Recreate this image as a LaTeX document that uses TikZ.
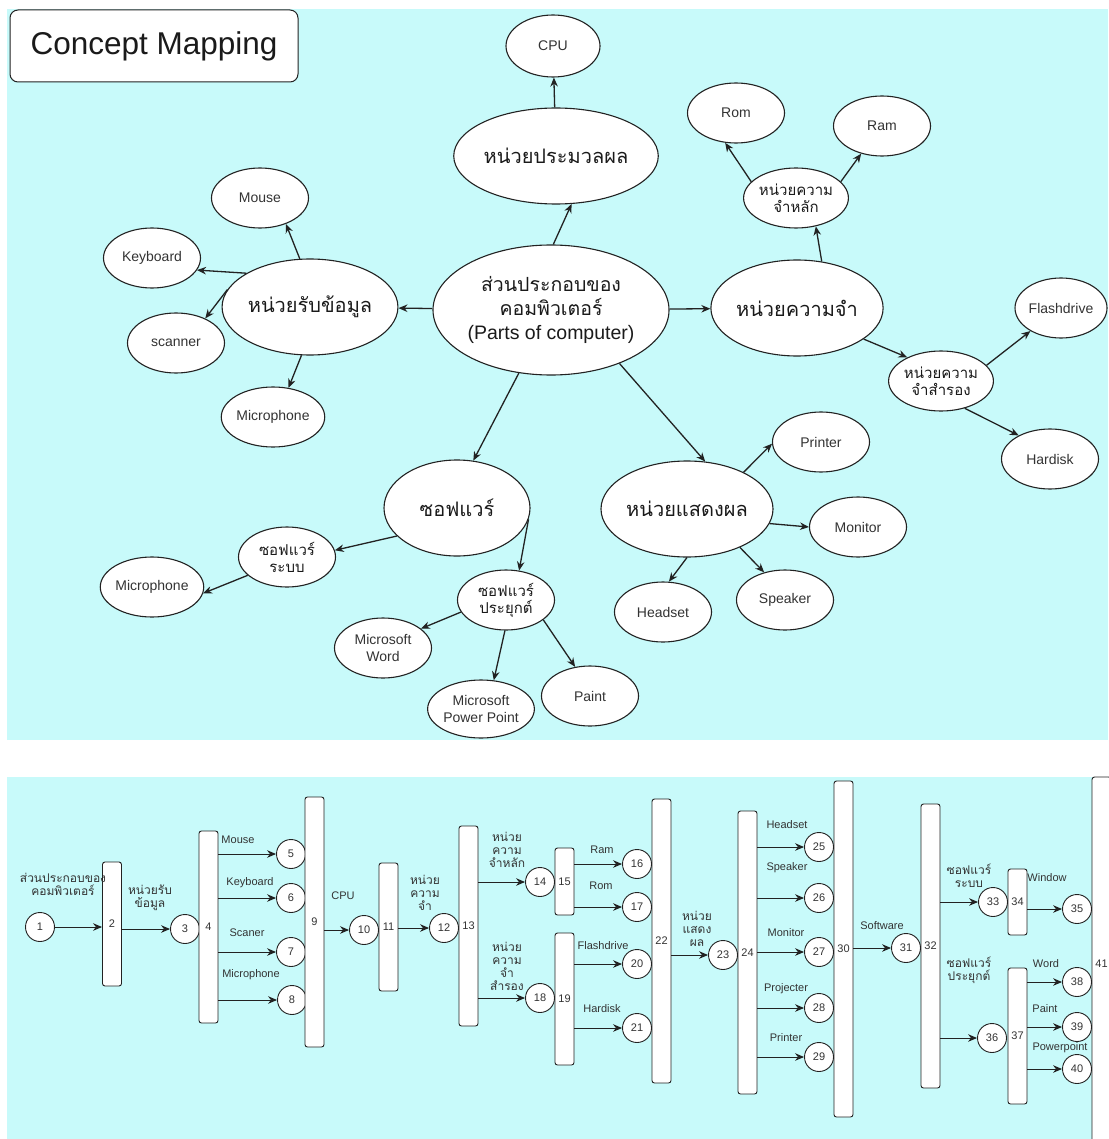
\documentclass[tikz,border=0pt]{standalone}
\usepackage{fontspec}
\setmainfont{Liberation Sans}
\newfontfamily\thai[Script=Thai]{Loma}
\usepackage{xcolor}
\usepackage{tikz}
\usetikzlibrary{arrows.meta,positioning,shapes.geometric}
\definecolor{ink}{HTML}{1A1A1A}
\definecolor{softink}{HTML}{333333}
\definecolor{edge}{HTML}{222222}
\definecolor{aqua}{HTML}{C8FAFA}
\tikzset{
  >={Stealth[length=9pt,width=7.5pt]},
  panel/.style={fill=aqua,draw=none},
  bub/.style={ellipse,draw=edge,fill=white,line width=1.1pt,inner sep=0pt,text=ink,align=center},
  sz/.style 2 args={minimum width=#1pt,minimum height=#2pt},
  big/.style={bub,sz={146}{96},font=\thai\fontsize{20}{24}\selectfont},
  mid/.style={bub,sz={97}{60},font=\thai\fontsize{15}{17}\selectfont},
  leaf/.style={bub,sz={97}{60},font=\fontsize{14}{17}\selectfont,text=softink},
  link/.style={->,line width=1.3pt,color=edge},
  bar/.style={draw=edge,fill=white,rounded corners=2.5pt,minimum width=19pt,inner sep=0pt,line width=.9pt,font=\fontsize{11}{13}\selectfont,text=softink},
  num/.style={circle,draw=edge,fill=white,minimum size=29pt,inner sep=0pt,line width=.9pt,font=\fontsize{11}{13}\selectfont,text=softink},
  tag/.style={font=\fontsize{11}{13}\selectfont,text=softink,inner sep=0pt},
  ttag/.style={font=\thai\fontsize{12}{13}\selectfont,align=center,text=softink,inner sep=0pt},
}

\begin{document}
\begin{tikzpicture}[x=1pt,y=-1pt]
  \useasboundingbox[fill=white] (0,0) rectangle (1108,1139);
  \fill[panel] (7,9) rectangle (1108,740);
  \fill[panel] (7,777) rectangle (1108,1139);
  \node[draw=edge,fill=white,rounded corners=8pt,line width=1pt,sz={288}{72},font=\fontsize{31.5}{36}\selectfont,text=ink]
    (title) at (154,46) {Concept Mapping};

  % concept map
  \node[bub,sz={196}{130},font=\fontsize{19.5}{24}\selectfont] (ctr) at (551,310)
    {{\thai ส่วนประกอบของ}\\{\thai คอมพิวเตอร์}\\(Parts of computer)};
  \node[big] (proc) at (556,156) {หน่วยประมวลผล};
  \node[leaf,sz={94}{62}] (cpu) at (553,46) {CPU};
  \node[big] (inp) at (310,307) {หน่วยรับข้อมูล};
  \node[leaf] (mouse) at (260,198) {Mouse};
  \node[leaf] (kb) at (152,258) {Keyboard};
  \node[leaf] (scan) at (176,343) {scanner};
  \node[leaf] (mic1) at (273,417) {Microphone};
  \node[big] (mem) at (797,308) {หน่วยความจำ};
  \node[mid] (mainm) at (796,198) {หน่วยความ\\จำหลัก};
  \node[leaf] (rom) at (736,113) {Rom};
  \node[leaf] (ram) at (882,126) {Ram};
  \node[mid,sz={96}{60}] (secm) at (941,381) {หน่วยความ\\จำสำรอง};
  \node[leaf,sz={92}{60}] (flash) at (1061,308) {Flashdrive};
  \node[leaf] (hard) at (1050,459) {Hardisk};
  \node[big] (sw) at (457,508) {ซอฟแวร์};
  \node[mid] (sys) at (287,557) {ซอฟแวร์\\ระบบ};
  \node[leaf] (mic2) at (152,587) {Microphone};
  \node[mid] (app) at (506,600) {ซอฟแวร์\\ประยุกต์};
  \node[leaf] (word) at (383,648) {Microsoft\\Word};
  \node[leaf,sz={98}{58}] (ppt) at (481,709) {Microsoft\\Power Point};
  \node[leaf] (paint) at (590,696) {Paint};
  \node[big] (disp) at (687,509) {หน่วยแสดงผล};
  \node[leaf] (printer) at (821,442) {Printer};
  \node[leaf] (monitor) at (858,527) {Monitor};
  \node[leaf] (headset) at (663,612) {Headset};
  \node[leaf] (speaker) at (785,600) {Speaker};

  \draw[link] (ctr.88) -- (proc.-72);
  \draw[link] (proc) -- (cpu);
  \draw[link] (ctr) -- (inp);
  \draw[link] (inp.102) -- (mouse.-45);
  \draw[link] (inp.152) -- (kb.-15);
  \draw[link] (inp.168) -- (scan.40);
  \draw[link] (inp.-100) -- (mic1.62);
  \draw[link] (ctr) -- (mem);
  \draw[link] (mem.62) -- (mainm.-55);
  \draw[link] (mainm.160) -- (rom.-110);
  \draw[link] (mainm.20) -- (ram.-127);
  \draw[link] (mem.-25) -- (secm.145);
  \draw[link] (secm.19) -- (flash.-143);
  \draw[link] (secm.-49) -- (hard.143);
  \draw[link] (ctr.-117) -- (sw.71);
  \draw[link] (ctr.-38) -- (disp.69);
  \draw[link] (sw.-9) -- (app.66);
  \draw[link] (sw.205) -- (sys.8);
  \draw[link] (sys.205) -- (mic2.-7);
  \draw[link] (app.195) -- (word.27);
  \draw[link] (app.-92) -- (ppt.66);
  \draw[link] (app.-28) -- (paint.117);
  \draw[link] (disp.33) -- (printer.182);
  \draw[link] (disp.-10) -- (monitor.west);
  \draw[link] (disp.-36) -- (speaker.127);
  \draw[link] (disp.-90) -- (headset.79);

  % sequence strip
  \foreach \n/\x/\y in {1/40/927,3/185/929,5/291/854,6/291/898,7/291/952,8/292/1000,
      10/364/930,12/444/928,14/540/882,16/637/864,17/637/907,18/540/998,20/637/964,
      21/637/1028,23/723/955,25/819/847,26/819/898,27/819/952,28/819/1008,29/819/1057,
      31/906/948,33/993/902,35/1077/909,36/992/1038,38/1077/982,39/1077/1027,40/1077/1069}
    {\node[num] (s\n) at (\x,\y) {\n};}
  \foreach \n/\x/\y/\h in {2/112/924/124,4/208.5/927/192,9/314.5/922/250,11/388.5/927/128,
      13/468.5/926/200,15/564.5/881.5/67,19/564.5/999/132,22/661.5/941/284,24/747.5/952.5/283,
      30/843.5/949/336,32/930.5/946/284,34/1017.5/902/66,37/1017.5/1036/136,41/1101.5/963.5/373}
    {\node[bar,minimum height=\h pt] (s\n) at (\x,\y) {\n};}

  \draw[link,line width=.9pt] (s1) -- (s1 -| s2.west);
  \foreach \a/\b in {2/3,4/5,4/6,4/7,4/8,9/10,11/12,13/14,13/18,15/16,15/17,19/20,19/21,
      22/23,24/25,24/26,24/27,24/28,24/29,30/31,32/33,32/36,34/35,37/38,37/39,37/40}
    {\draw[link,line width=.9pt] (s\a.east |- s\b) -- (s\b);}

  \node[ttag] (l1) at (63,884) {ส่วนประกอบของ\\คอมพิวเตอร์};
  \node[ttag] (l3) at (150,898) {หน่วยรับ\\ข้อมูล};
  \node[tag] (l5) at (238,840) {Mouse};
  \node[tag] (l6) at (250,883) {Keyboard};
  \node[tag] (l7) at (247,933) {Scaner};
  \node[tag] (l8) at (251,975) {Microphone};
  \node[tag] (l10) at (343,896) {CPU};
  \node[ttag] (l12) at (425,893) {หน่วย\\ความ\\จำ};
  \node[ttag] (l14) at (507,850) {หน่วย\\ความ\\จำหลัก};
  \node[tag] (l16) at (602,850) {Ram};
  \node[tag] (l17) at (601,886) {Rom};
  \node[ttag] (l18) at (507,966) {หน่วย\\ความ\\จำ\\สำรอง};
  \node[tag] (l20) at (603,946) {Flashdrive};
  \node[tag] (l21) at (602,1009) {Hardisk};
  \node[ttag] (l23) at (697,929) {หน่วย\\แสดง\\ผล};
  \node[tag] (l25) at (787,825) {Headset};
  \node[tag] (l26) at (787,868) {Speaker};
  \node[tag] (l27) at (786,933) {Monitor};
  \node[tag] (l28) at (786,989) {Projecter};
  \node[tag] (l29) at (786,1038) {Printer};
  \node[tag] (l31) at (882,926) {Software};
  \node[ttag] (l33) at (969,876) {ซอฟแวร์\\ระบบ};
  \node[tag] (l35) at (1047,878) {Window};
  \node[ttag] (l36) at (969,970) {ซอฟแวร์\\ประยุกต์};
  \node[tag] (l38) at (1046,964) {Word};
  \node[tag] (l39) at (1045,1009) {Paint};
  \node[tag] (l40) at (1060,1048) {Powerpoint};
\end{tikzpicture}
\end{document}
